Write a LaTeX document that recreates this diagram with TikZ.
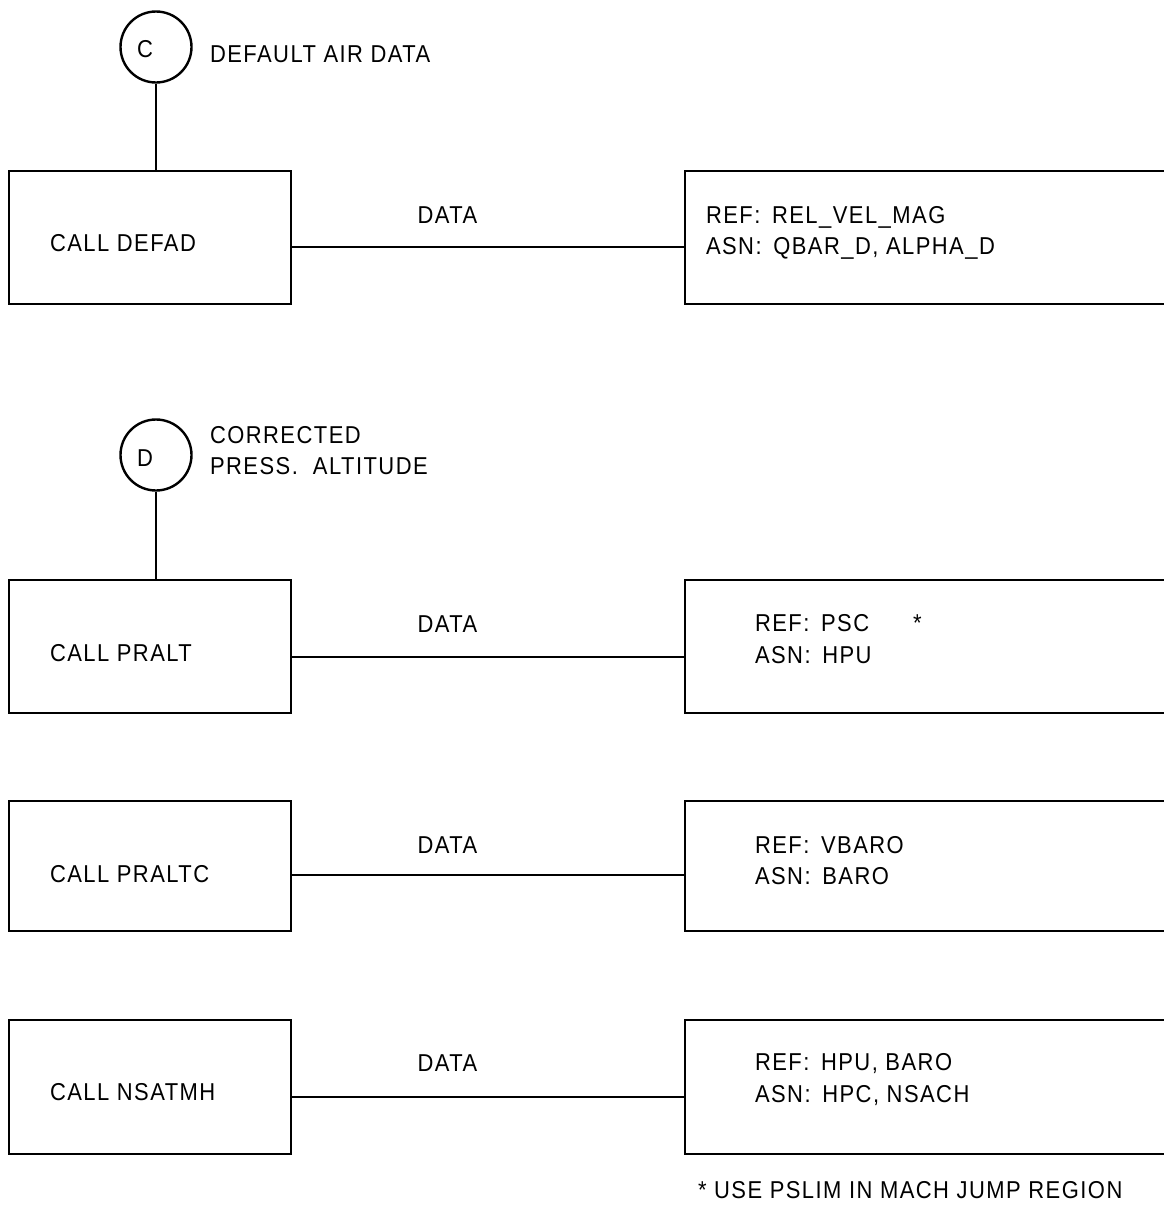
\documentclass[tikz,border=0pt]{standalone}
\usepackage{fontspec}
\setmainfont{Liberation Sans}[FakeStretch=0.9,LetterSpace=6]
\begin{document}
\begin{tikzpicture}[x=1pt,y=-1pt,line width=2.4pt,
  txt/.style={inner sep=0pt,outer sep=0pt,anchor=base west,font=\fontsize{24.4}{31}\selectfont},
  callbox/.style={draw,rectangle,minimum width=282pt,minimum height=133pt,anchor=north west,inner sep=0pt},
  databox/.style={draw,rectangle,minimum width=540pt,minimum height=133pt,anchor=north west,inner sep=0pt},
  conn/.style={line width=2.3pt},
  entry/.style={draw,circle,minimum size=71pt,inner sep=0pt},
  lbl/.style={inner sep=0pt,anchor=base,font=\fontsize{24.4}{31}\selectfont}]
\clip (0,0) rectangle (1164,1210);
\fill[white] (0,0) rectangle (1164,1210);

% entry C
\node[entry] (cc) at (156,47) {};
\node[txt,anchor=base] (ct) at (145,57) {C};
\node[txt] (cd) at (210,62) {DEFAULT AIR DATA};

% block 1
\node[callbox] (b1) at (8,170) {};
\node[databox] (r1) at (684,170) {};
\node[txt] (b1t) at (50,251) {CALL DEFAD};
\node[txt] (r1a) at (706,223) {REF: \,REL\_VEL\_MAG};
\node[txt] (r1b) at (706,254) {ASN: \,QBAR\_D, ALPHA\_D};
\draw (cc.south) -- (cc.south |- b1.north);
\draw[conn] ([yshift=-9pt]b1.east) -- node[lbl,pos=0.396,yshift=23pt] (d1) {DATA} ([yshift=-9pt]r1.west);

% entry D
\node[entry] (dc) at (156,455) {};
\node[txt,anchor=base] (dt) at (145,466) {D};
\node[txt] (dd1) at (210,443) {CORRECTED};
\node[txt] (dd2) at (210,474) {PRESS.\ \ ALTITUDE};

% block 2
\node[callbox] (b2) at (8,579) {};
\node[databox] (r2) at (684,579) {};
\node[txt] (b2t) at (50,661) {CALL PRALT};
\node[txt] (r2a) at (755,631) {REF: \,PSC};
\node[txt] (star) at (913,631) {*};
\node[txt] (r2b) at (755,663) {ASN: \,HPU};
\draw (dc.south) -- (dc.south |- b2.north);
\draw[conn] ([yshift=-10pt]b2.east) -- node[lbl,pos=0.396,yshift=24pt] (d2) {DATA} ([yshift=-10pt]r2.west);

% block 3
\node[callbox,minimum height=130pt] (b3) at (8,800) {};
\node[databox,minimum height=130pt] (r3) at (684,800) {};
\node[txt] (b3t) at (50,882) {CALL PRALTC};
\node[txt] (r3a) at (755,853) {REF: \,VBARO};
\node[txt] (r3b) at (755,884) {ASN: \,BARO};
\draw[conn] ([yshift=-9pt]b3.east) -- node[lbl,pos=0.396,yshift=22pt] (d3) {DATA} ([yshift=-9pt]r3.west);

% block 4
\node[callbox,minimum height=134pt] (b4) at (8,1019) {};
\node[databox,minimum height=134pt] (r4) at (684,1019) {};
\node[txt] (b4t) at (50,1100) {CALL NSATMH};
\node[txt] (r4a) at (755,1070) {REF: \,HPU, BARO};
\node[txt] (r4b) at (755,1102) {ASN: \,HPC, NSACH};
\draw[conn] ([yshift=-10pt]b4.east) -- node[lbl,pos=0.396,yshift=26pt] (d4) {DATA} ([yshift=-10pt]r4.west);

% footnote
\node[txt] (fn) at (698,1198) {* USE PSLIM IN MACH JUMP REGION};
\end{tikzpicture}
\end{document}
